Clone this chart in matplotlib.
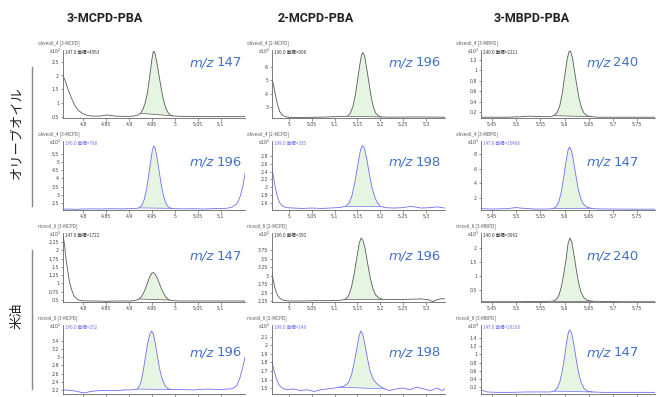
import numpy as np
import matplotlib
matplotlib.use("Agg")
import matplotlib.pyplot as plt
from matplotlib.ticker import FuncFormatter

# ---- data (x = retention time, y in units of the axis exponent) ----
# olive oil, 3-MCPD, m/z 147
t11 = [4.756, 4.762, 4.768, 4.775, 4.782, 4.790, 4.800, 4.810, 4.820, 4.835, 4.845, 4.852, 4.860, 4.870,
       4.885, 4.900, 4.910, 4.920, 4.925, 4.930, 4.935, 4.940, 4.945, 4.950, 4.953, 4.956, 4.960, 4.965,
       4.970, 4.975, 4.980, 4.985, 4.990, 4.995, 5.000, 5.010, 5.030, 5.060, 5.100, 5.153]
y11 = [2.0, 1.75, 1.45, 1.15, 0.9, 0.72, 0.6, 0.54, 0.52, 0.52, 0.54, 0.56, 0.54, 0.52,
       0.51, 0.51, 0.52, 0.56, 0.62, 0.75, 0.98, 1.35, 1.95, 2.6, 2.88, 2.85, 2.55, 2.05,
       1.55, 1.12, 0.82, 0.65, 0.56, 0.53, 0.52, 0.51, 0.51, 0.50, 0.50, 0.50]
# olive oil, 3-MCPD, m/z 196
t21 = [4.756, 4.770, 4.785, 4.800, 4.820, 4.840, 4.860, 4.880, 4.900, 4.915, 4.922, 4.928, 4.933, 4.938,
       4.943, 4.947, 4.951, 4.954, 4.957, 4.961, 4.966, 4.971, 4.976, 4.981, 4.986, 4.992, 5.000, 5.020,
       5.040, 5.060, 5.080, 5.100, 5.115, 5.125, 5.135, 5.142, 5.148, 5.153]
y21 = [2.12, 2.13, 2.11, 2.13, 2.14, 2.13, 2.15, 2.14, 2.15, 2.16, 2.2, 2.35, 2.7, 3.3,
       4.2, 5.0, 5.75, 5.99, 5.85, 5.3, 4.4, 3.5, 2.85, 2.45, 2.25, 2.17, 2.15, 2.14,
       2.15, 2.13, 2.15, 2.16, 2.18, 2.25, 2.45, 2.85, 3.5, 4.3]
# rice oil, 3-MCPD, m/z 147
t31 = [4.756, 4.759, 4.762, 4.766, 4.770, 4.775, 4.780, 4.787, 4.795, 4.810, 4.830, 4.850, 4.870, 4.890,
       4.905, 4.915, 4.922, 4.928, 4.934, 4.940, 4.945, 4.950, 4.953, 4.957, 4.962, 4.967, 4.972, 4.977,
       4.982, 4.988, 4.995, 5.010, 5.040, 5.080, 5.120, 5.153]
y31 = [2.45, 2.2, 1.8, 1.4, 1.05, 0.8, 0.62, 0.52, 0.48, 0.47, 0.47, 0.46, 0.47, 0.47,
       0.47, 0.49, 0.53, 0.62, 0.78, 1.0, 1.2, 1.31, 1.33, 1.28, 1.15, 0.97, 0.8, 0.66,
       0.56, 0.5, 0.48, 0.47, 0.47, 0.47, 0.47, 0.47]
# rice oil, 3-MCPD, m/z 196
t41 = [4.756, 4.770, 4.785, 4.795, 4.805, 4.815, 4.830, 4.850, 4.870, 4.890, 4.905, 4.912, 4.918, 4.925,
       4.930, 4.935, 4.940, 4.945, 4.949, 4.953, 4.958, 4.963, 4.968, 4.973, 4.978, 4.984, 4.990, 5.010,
       5.040, 5.070, 5.100, 5.125, 5.135, 5.142, 5.148, 5.153]
y41 = [2.2, 2.19, 2.17, 2.14, 2.13, 2.16, 2.18, 2.19, 2.18, 2.2, 2.2, 2.21, 2.22, 2.35,
       2.6, 2.95, 3.3, 3.55, 3.64, 3.58, 3.3, 2.95, 2.65, 2.45, 2.32, 2.24, 2.21, 2.21,
       2.2, 2.22, 2.21, 2.23, 2.3, 2.5, 2.75, 3.0]
# olive oil, 2-MCPD, m/z 196
t12 = [4.963, 4.966, 4.970, 4.975, 4.980, 4.986, 4.993, 5.000, 5.020, 5.050, 5.080, 5.100, 5.110, 5.120,
       5.128, 5.134, 5.140, 5.145, 5.150, 5.155, 5.159, 5.162, 5.166, 5.170, 5.175, 5.180, 5.185, 5.190,
       5.196, 5.203, 5.220, 5.250, 5.280, 5.310, 5.342]
y12 = [5.0, 4.7, 4.0, 3.2, 2.65, 2.38, 2.26, 2.22, 2.21, 2.22, 2.24, 2.27, 2.3, 2.28,
       2.3, 2.5, 3.0, 3.8, 4.9, 6.1, 6.9, 7.1, 6.8, 6.0, 4.9, 3.8, 3.0, 2.55,
       2.33, 2.25, 2.23, 2.24, 2.25, 2.24, 2.23]
# olive oil, 2-MCPD, m/z 198
t22 = [4.963, 4.966, 4.970, 4.975, 4.980, 4.986, 4.995, 5.010, 5.030, 5.050, 5.070, 5.090, 5.105, 5.115,
       5.125, 5.132, 5.138, 5.144, 5.150, 5.155, 5.159, 5.162, 5.166, 5.171, 5.176, 5.182, 5.188, 5.194,
       5.200, 5.210, 5.230, 5.250, 5.265, 5.275, 5.290, 5.310, 5.325, 5.342]
y22 = [2.45, 2.3, 2.0, 1.75, 1.6, 1.52, 1.48, 1.47, 1.46, 1.47, 1.46, 1.47, 1.48, 1.49,
       1.52, 1.6, 1.78, 2.1, 2.5, 2.85, 3.03, 3.06, 2.98, 2.7, 2.35, 2.0, 1.75, 1.6,
       1.52, 1.48, 1.47, 1.48, 1.51, 1.5, 1.47, 1.48, 1.5, 1.47]
# rice oil, 2-MCPD, m/z 196
t32 = [4.963, 4.966, 4.970, 4.975, 4.981, 4.988, 5.000, 5.030, 5.060, 5.090, 5.110, 5.122, 5.130, 5.137,
       5.143, 5.149, 5.154, 5.158, 5.162, 5.167, 5.172, 5.178, 5.184, 5.190, 5.197, 5.205, 5.230, 5.260,
       5.290, 5.305, 5.315, 5.325, 5.335, 5.342]
y32 = [3.06, 2.85, 2.6, 2.42, 2.32, 2.27, 2.25, 2.25, 2.26, 2.26, 2.27, 2.29, 2.38, 2.65,
       3.05, 3.55, 3.95, 4.11, 4.05, 3.8, 3.4, 2.95, 2.62, 2.43, 2.34, 2.3, 2.29, 2.3,
       2.31, 2.29, 2.23, 2.29, 2.32, 2.31]
# rice oil, 2-MCPD, m/z 198
t42 = [4.963, 4.967, 4.972, 4.978, 4.985, 4.995, 5.010, 5.025, 5.040, 5.055, 5.070, 5.085, 5.100, 5.110,
       5.120, 5.130, 5.137, 5.143, 5.149, 5.154, 5.158, 5.162, 5.167, 5.172, 5.178, 5.185, 5.193, 5.200,
       5.210, 5.220, 5.235, 5.250, 5.265, 5.280, 5.295, 5.310, 5.325, 5.335, 5.342]
y42 = [1.8, 1.72, 1.62, 1.54, 1.5, 1.48, 1.49, 1.47, 1.48, 1.46, 1.48, 1.49, 1.5, 1.51,
       1.52, 1.56, 1.65, 1.8, 1.97, 2.12, 2.17, 2.13, 2.0, 1.85, 1.7, 1.6, 1.55, 1.52,
       1.49, 1.47, 1.49, 1.5, 1.48, 1.51, 1.49, 1.47, 1.5, 1.47, 1.49]
# olive oil, 3-MBPD, m/z 240
t13 = [5.427, 5.450, 5.480, 5.510, 5.525, 5.540, 5.555, 5.570, 5.578, 5.585, 5.590, 5.595, 5.600, 5.605,
       5.609, 5.612, 5.616, 5.620, 5.625, 5.630, 5.635, 5.640, 5.646, 5.655, 5.670, 5.700, 5.750, 5.787]
y13 = [0.1, 0.1, 0.1, 0.11, 0.12, 0.115, 0.11, 0.11, 0.13, 0.2, 0.32, 0.55, 0.88, 1.2,
       1.36, 1.37, 1.25, 1.02, 0.72, 0.46, 0.28, 0.18, 0.13, 0.11, 0.1, 0.1, 0.1, 0.1]
# olive oil, 3-MBPD, m/z 147
t23 = [5.427, 5.450, 5.480, 5.500, 5.515, 5.540, 5.560, 5.575, 5.582, 5.588, 5.593, 5.598, 5.603, 5.607,
       5.610, 5.614, 5.618, 5.623, 5.628, 5.633, 5.638, 5.645, 5.655, 5.670, 5.700, 5.750, 5.787]
y23 = [0.55, 0.5, 0.55, 0.7, 0.6, 0.5, 0.5, 0.55, 0.8, 1.5, 2.8, 4.8, 7.0, 8.5,
       8.95, 8.5, 7.2, 5.2, 3.3, 2.0, 1.25, 0.8, 0.6, 0.52, 0.5, 0.48, 0.48]
# rice oil, 3-MBPD, m/z 240
t33 = [5.427, 5.460, 5.500, 5.540, 5.560, 5.575, 5.582, 5.588, 5.593, 5.598, 5.603, 5.607, 5.611, 5.615,
       5.619, 5.624, 5.629, 5.634, 5.640, 5.647, 5.657, 5.680, 5.720, 5.787]
y33 = [0.08, 0.08, 0.08, 0.09, 0.09, 0.1, 0.15, 0.3, 0.6, 1.05, 1.6, 2.15, 2.36, 2.2,
       1.8, 1.25, 0.75, 0.42, 0.22, 0.13, 0.1, 0.09, 0.08, 0.08]
# rice oil, 3-MBPD, m/z 147
t43 = [5.427, 5.440, 5.460, 5.490, 5.520, 5.550, 5.570, 5.578, 5.585, 5.590, 5.595, 5.600, 5.604, 5.608,
       5.611, 5.615, 5.619, 5.624, 5.629, 5.634, 5.640, 5.647, 5.657, 5.680, 5.720, 5.787]
y43 = [0.13, 0.08, 0.07, 0.07, 0.08, 0.08, 0.08, 0.1, 0.18, 0.33, 0.58, 0.95, 1.3, 1.55,
       1.6, 1.5, 1.25, 0.88, 0.55, 0.32, 0.17, 0.1, 0.08, 0.07, 0.07, 0.07]

col_titles = ["3-MCPD-PBA", "2-MCPD-PBA", "3-MBPD-PBA"]
row_groups = ["オリーブオイル", "米油"]
samples = ["oliveoil_4", "oliveoil_4", "riceoil_6", "riceoil_6"]
analytes = ["3-MCPD", "2-MCPD", "3-MBPD"]
mz = [[147, 196, 240], [196, 198, 147], [147, 196, 240], [196, 198, 147]]
areas = [[4563, 906, 2211], [768, 335, 15468], [1722, 350, 3962], [252, 148, 29160]]
expo = [[2, 2, 2], [2, 2, 3], [3, 2, 3], [2, 2, 4]]
traces = [[(t11, y11), (t12, y12), (t13, y13)],
          [(t21, y21), (t22, y22), (t23, y23)],
          [(t31, y31), (t32, y32), (t33, y33)],
          [(t41, y41), (t42, y42), (t43, y43)]]
# integration limits of the shaded peak
peak_lim = [[(4.925, 4.995), (5.128, 5.203), (5.578, 5.655)],
            [(4.922, 4.992), (5.125, 5.200), (5.575, 5.655)],
            [(4.922, 4.988), (5.122, 5.205), (5.575, 5.657)],
            [(4.918, 4.990), (5.110, 5.210), (5.578, 5.657)]]
ylims = [[(0.45, 2.93), (2.17, 7.28), (0.085, 1.39)],
         [(2.07, 6.29), (1.42, 3.18), (0.37, 9.77)],
         [(0.44, 2.52), (2.22, 4.26), (0.07, 2.54)],
         [(2.1, 3.79), (1.43, 2.24), (0.03, 1.72)]]
yticks = [[[0.5, 1, 1.5, 2, 2.5], [3, 4, 5, 6], [0.2, 0.4, 0.6, 0.8, 1, 1.2]],
          [[2.5, 3, 3.5, 4, 4.5, 5, 5.5], [1.6, 1.8, 2, 2.2, 2.4, 2.6, 2.8], [2, 4, 6, 8]],
          [[0.5, 0.75, 1, 1.25, 1.5, 1.75, 2, 2.25], [2.25, 2.5, 2.75, 3, 3.25, 3.5, 3.75], [0.5, 1, 1.5, 2]],
          [[2.2, 2.4, 2.6, 2.8, 3, 3.2, 3.4], [1.5, 1.6, 1.7, 1.8, 1.9, 2, 2.1], [0.2, 0.4, 0.6, 0.8, 1, 1.2, 1.4]]]
xlims = [(4.756, 5.153), (4.963, 5.342), (5.427, 5.787)]
xticks = [[4.8, 4.85, 4.9, 4.95, 5.0, 5.05, 5.1],
          [5.0, 5.05, 5.1, 5.15, 5.2, 5.25, 5.3],
          [5.45, 5.5, 5.55, 5.6, 5.65, 5.7, 5.75]]

W, H = 657, 397
cols_px = [(63, 245), (272, 445), (481, 655)]
rows_px = [(50, 118), (141, 210), (233, 302), (325, 394)]

jp = ['Noto Sans CJK JP', 'DejaVu Sans']
fig = plt.figure(figsize=(W / 100, H / 100), dpi=100)
fmt = FuncFormatter(lambda v, p: '%g' % v)

for r in range(4):
    blue = r % 2 == 1
    lc = '#6f6ff2' if blue else '#5a5a5a'
    for c in range(3):
        l, rr = cols_px[c]
        t, b = rows_px[r]
        ax = fig.add_axes([l / W, 1 - b / H, (rr - l) / W, (b - t) / H])
        x, y = traces[r][c]
        ax.plot(x, y, color=lc, lw=0.6)
        i0 = x.index(peak_lim[r][c][0])
        i1 = x.index(peak_lim[r][c][1])
        ax.fill(x[i0:i1 + 1], y[i0:i1 + 1], color='#e6f5e1', lw=0, zorder=0)
        ax.plot([x[i0], x[i1]], [y[i0], y[i1]], color=lc, lw=0.5)
        ax.set_xlim(*xlims[c])
        ax.set_ylim(*ylims[r][c])
        ax.set_xticks(xticks[c])
        ax.set_yticks(yticks[r][c])
        ax.xaxis.set_major_formatter(fmt)
        ax.yaxis.set_major_formatter(fmt)
        for s in ['top', 'right']:
            ax.spines[s].set_visible(False)
        for s in ['left', 'bottom']:
            ax.spines[s].set_color('#666666')
            ax.spines[s].set_linewidth(0.6)
        ax.tick_params(labelsize=3.3, length=1.8, width=0.4, pad=1, colors='#444444')
        if r == 3:
            # the bottom row's time labels fall outside the picture
            ax.tick_params(axis='x', labelbottom=False)
        # header texts
        fig.text((l - 25) / W, 1 - (t - 7) / H, "%s [%s]" % (samples[r], analytes[c]),
                 fontsize=3.3, color='#555555', family=jp, va='center')
        fig.text((l - 14) / W, 1 - (t + 1) / H, r"x10$^{%d}$" % expo[r][c],
                 fontsize=3.3, color='#444444', va='center')
        ax.text(0.012, 1.0, "%.1f 面積=%d" % (mz[r][c], areas[r][c]), transform=ax.transAxes,
                fontsize=3.3, color=lc if blue else '#333333', family=jp, va='top', ha='left')
        # m/z label
        mx = [190, 389, 587][c]
        my = [63, 162, 256, 353][r]
        lab = fig.text(mx / W, 1 - my / H, "m/z", style='italic', fontsize=9.5,
                       color='#4472c4', va='center', ha='left')
        fig.add_artist(plt.Annotation(str(mz[r][c]), xy=(1, 0.5), xycoords=lab,
                                      xytext=(1.5, 0), textcoords='offset points',
                                      fontsize=9.5, color='#4472c4', va='center', ha='left'))

for c, title in enumerate(col_titles):
    fig.text([105, 316, 532][c] / W, 1 - 18 / H, title, fontsize=9, weight='bold',
             family='Roboto', ha='center', va='center', color='#222222')

# group labels with bracket lines
for (y0, y1), label in zip([(67, 206), (250, 389)], row_groups):
    fig.add_artist(plt.Line2D([32 / W, 32 / W], [1 - y0 / H, 1 - y1 / H], color='#888888', lw=1.0))
    fig.text(17 / W, 1 - ((y0 + y1) / 2 - 4) / H, label, rotation=90, fontsize=9.5, family=jp,
             ha='center', va='center', color='#222222')

fig.savefig("out.png", dpi=100)
